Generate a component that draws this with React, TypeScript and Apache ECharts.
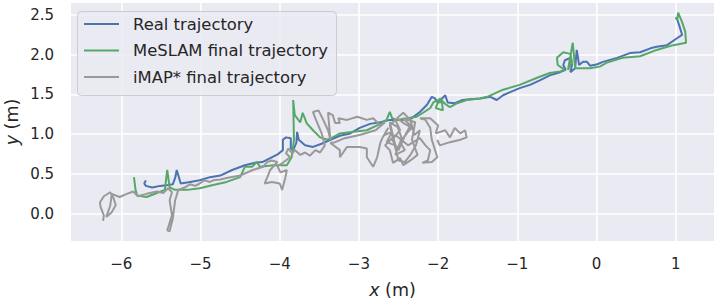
import React, { useEffect, useRef } from "react";
import * as echarts from "echarts";

const seriesNames = ["Real trajectory", "MeSLAM final trajectory", "iMAP* final trajectory"];
const seriesColors = ["#4C72B0", "#55A868", "#999999"];

const xTicks = [-6, -5, -4, -3, -2, -1, 0, 1];
const yTicks = [0, 0.5, 1, 1.5, 2, 2.5];

const realTrajectory: number[][] = [
  [-5.69, 0.42], [-5.71, 0.38], [-5.69, 0.35], [-5.61, 0.33], [-5.51, 0.35], [-5.41, 0.36],
  [-5.35, 0.37], [-5.32, 0.45], [-5.30, 0.55], [-5.27, 0.45], [-5.25, 0.38], [-5.13, 0.40],
  [-5.01, 0.42], [-4.88, 0.46], [-4.75, 0.48], [-4.60, 0.55], [-4.44, 0.61], [-4.31, 0.64],
  [-4.22, 0.65], [-4.12, 0.70], [-4.02, 0.75], [-3.96, 0.80], [-3.96, 0.93], [-3.92, 0.96],
  [-3.86, 0.95], [-3.86, 0.82], [-3.83, 0.80], [-3.79, 0.89], [-3.78, 1.03], [-3.76, 0.93],
  [-3.68, 0.86], [-3.58, 0.84], [-3.47, 0.88], [-3.36, 0.93], [-3.24, 0.98], [-3.11, 1.01],
  [-2.99, 1.08], [-2.86, 1.13], [-2.73, 1.15], [-2.61, 1.18], [-2.48, 1.18], [-2.35, 1.19],
  [-2.23, 1.28], [-2.14, 1.37], [-2.08, 1.47], [-2.04, 1.45], [-2.00, 1.39], [-1.95, 1.45],
  [-1.91, 1.49], [-1.88, 1.40], [-1.79, 1.39], [-1.69, 1.43], [-1.60, 1.44], [-1.47, 1.45],
  [-1.34, 1.47], [-1.26, 1.43], [-1.18, 1.49], [-1.09, 1.53], [-0.97, 1.58], [-0.84, 1.62],
  [-0.71, 1.68], [-0.59, 1.74], [-0.46, 1.78], [-0.39, 1.81], [-0.42, 1.87], [-0.40, 1.93],
  [-0.33, 1.96], [-0.31, 1.87], [-0.33, 1.78], [-0.27, 1.83], [-0.25, 2.06], [-0.22, 1.87],
  [-0.17, 1.91], [-0.12, 1.91], [-0.08, 1.86], [0.01, 1.88], [0.08, 1.91], [0.26, 1.96],
  [0.42, 2.02], [0.55, 2.03], [0.68, 2.08], [0.76, 2.10], [0.89, 2.12], [1.02, 2.21],
  [1.08, 2.25], [1.05, 2.35], [1.02, 2.44], [1.00, 2.47],
];

const meslamTrajectory: number[][] = [
  [-5.84, 0.46], [-5.83, 0.38], [-5.82, 0.30], [-5.80, 0.23], [-5.68, 0.21], [-5.55, 0.26],
  [-5.45, 0.30], [-5.42, 0.55], [-5.39, 0.33], [-5.32, 0.30], [-5.17, 0.30], [-5.01, 0.32],
  [-4.84, 0.36], [-4.67, 0.40], [-4.50, 0.46], [-4.44, 0.59], [-4.35, 0.59], [-4.29, 0.65],
  [-4.25, 0.59], [-4.08, 0.61], [-3.91, 0.61], [-3.85, 0.71], [-3.82, 0.93], [-3.83, 1.43],
  [-3.81, 1.24], [-3.74, 1.15], [-3.71, 1.27], [-3.66, 1.14], [-3.58, 1.05], [-3.49, 0.96],
  [-3.40, 0.93], [-3.33, 0.96], [-3.24, 1.01], [-3.07, 1.03], [-2.90, 1.05], [-2.77, 1.11],
  [-2.65, 1.18], [-2.61, 1.28], [-2.58, 1.20], [-2.52, 1.18], [-2.39, 1.20], [-2.27, 1.22],
  [-2.19, 1.27], [-2.10, 1.33], [-2.06, 1.40], [-2.01, 1.43], [-1.95, 1.39], [-1.94, 1.30],
  [-2.03, 1.33], [-1.98, 1.45], [-1.91, 1.38], [-1.85, 1.34], [-1.76, 1.39], [-1.64, 1.43],
  [-1.47, 1.45], [-1.38, 1.47], [-1.18, 1.56], [-0.97, 1.62], [-0.75, 1.71], [-0.59, 1.77],
  [-0.46, 1.79], [-0.40, 1.81], [-0.49, 1.87], [-0.50, 1.96], [-0.42, 2.03], [-0.33, 2.01],
  [-0.31, 1.91], [-0.36, 1.81], [-0.30, 2.15], [-0.27, 1.83], [-0.21, 1.83], [-0.08, 1.83],
  [0.04, 1.85], [0.13, 1.90], [0.33, 1.96], [0.55, 1.98], [0.76, 2.06], [0.97, 2.12],
  [1.13, 2.15], [1.12, 2.29], [1.08, 2.41], [1.03, 2.53], [1.02, 2.44], [1.00, 2.46],
];

const imapTrajectory: number[][] = [
  [-6.23, -0.09], [-6.22, -0.02], [-6.26, 0.08], [-6.27, 0.14], [-6.22, 0.22], [-6.14, 0.27],
  [-6.10, 0.20], [-6.07, 0.11], [-6.12, 0.02], [-6.19, -0.04], [-6.14, 0.10], [-6.12, 0.25],
  [-6.02, 0.21], [-5.93, 0.25], [-5.85, 0.28], [-5.79, 0.22], [-5.68, 0.25], [-5.55, 0.28],
  [-5.47, 0.26], [-5.41, 0.32], [-5.36, 0.27], [-5.39, 0.17], [-5.36, -0.02], [-5.42, -0.21],
  [-5.39, -0.22], [-5.35, -0.06], [-5.32, 0.17], [-5.28, 0.30], [-5.20, 0.33], [-5.13, 0.37],
  [-5.07, 0.35], [-5.01, 0.38], [-4.95, 0.42], [-4.88, 0.40], [-4.84, 0.42], [-4.75, 0.43],
  [-4.67, 0.45], [-4.50, 0.48], [-4.34, 0.55], [-4.21, 0.59], [-4.16, 0.65], [-4.10, 0.67],
  [-4.03, 0.65], [-4.12, 0.55], [-4.16, 0.45], [-4.19, 0.38], [-4.10, 0.40], [-4.00, 0.38],
  [-3.97, 0.30], [-3.93, 0.45], [-3.91, 0.55], [-3.99, 0.52], [-4.03, 0.60], [-3.96, 0.64],
  [-3.87, 0.71], [-3.92, 0.76], [-3.89, 0.82], [-3.84, 0.76], [-3.81, 0.80], [-3.74, 0.74],
  [-3.68, 0.77], [-3.62, 0.73], [-3.55, 0.80], [-3.49, 0.77], [-3.43, 0.86], [-3.47, 1.01],
  [-3.55, 1.20], [-3.58, 1.28], [-3.51, 1.30], [-3.45, 1.18], [-3.39, 1.05], [-3.36, 0.93],
  [-3.39, 1.27], [-3.33, 1.24], [-3.30, 1.14], [-3.24, 1.14], [-3.26, 1.20], [-3.15, 1.18],
  [-3.02, 1.22], [-2.90, 1.18], [-2.82, 1.20], [-2.73, 1.11], [-2.67, 1.15], [-2.79, 1.05],
  [-2.99, 0.99], [-3.18, 0.95], [-3.30, 0.90], [-3.36, 0.89], [-3.24, 0.80], [-3.24, 0.71],
  [-3.15, 0.84], [-2.99, 0.84], [-2.90, 0.82], [-2.90, 0.71], [-2.82, 0.59], [-2.77, 0.71],
  [-2.73, 0.89], [-2.70, 0.96], [-2.63, 1.08], [-2.68, 0.99], [-2.58, 1.03], [-2.65, 0.90],
  [-2.54, 0.86], [-2.61, 1.15], [-2.51, 1.09], [-2.46, 0.95], [-2.54, 0.74], [-2.42, 0.80],
  [-2.48, 0.90], [-2.38, 1.03], [-2.33, 1.08], [-2.42, 1.13], [-2.52, 1.20], [-2.44, 1.27],
  [-2.35, 1.18], [-2.30, 0.99], [-2.23, 1.05], [-2.28, 0.86], [-2.35, 0.74], [-2.42, 0.65],
  [-2.50, 0.67], [-2.61, 1.11], [-2.54, 1.18], [-2.48, 1.05], [-2.58, 0.93], [-2.50, 0.80],
  [-2.42, 0.98], [-2.35, 1.11], [-2.44, 1.20], [-2.29, 1.15], [-2.33, 0.93], [-2.26, 0.74],
  [-2.35, 0.67], [-2.44, 0.61], [-2.48, 0.70], [-2.57, 0.64], [-2.61, 0.80], [-2.67, 0.86],
  [-2.54, 0.99], [-2.38, 0.86], [-2.23, 0.95], [-2.16, 0.86], [-2.10, 0.80], [-2.13, 0.67],
  [-2.20, 0.64], [-2.08, 0.65], [-2.01, 0.71], [-2.08, 0.93], [-2.10, 1.08], [-2.16, 1.18],
  [-2.23, 1.20], [-2.10, 1.20], [-2.00, 1.11], [-2.03, 1.01], [-1.91, 1.05], [-1.85, 0.96],
  [-1.79, 1.08], [-1.72, 1.01], [-1.66, 1.05], [-1.64, 0.96], [-1.72, 0.93], [-1.85, 0.90],
  [-1.98, 0.86], [-2.01, 0.93],
];

const trajectories = [realTrajectory, meslamTrajectory, imapTrajectory];

const FONT = "DejaVu Sans";
const TEXT = "#262626";

const fmt = (v: number, d: number) => (v < 0 ? "\u2212" + Math.abs(v).toFixed(d) : v.toFixed(d));

export default function App() {
  const ref = useRef<HTMLDivElement>(null);
  useEffect(() => {
    if (!ref.current) return;
    const chart = echarts.init(ref.current, null, { renderer: "svg" });
    const legendItems: any[] = [
      {
        type: "rect",
        shape: { x: 77.5, y: 11.5, width: 259, height: 84, r: 4 },
        style: { fill: "rgba(234,234,242,0.8)", stroke: "#cccccc", lineWidth: 1 },
        z: 100,
      },
    ];
    seriesNames.forEach((name, i) => {
      const cy = 24 + i * 26.5;
      legendItems.push({
        type: "line",
        shape: { x1: 84, y1: cy, x2: 119, y2: cy },
        style: { stroke: seriesColors[i], lineWidth: 2 },
        z: 101,
      });
      legendItems.push({
        type: "text",
        x: 133,
        y: cy,
        style: { text: name, font: `16.4px "${FONT}"`, fill: TEXT, verticalAlign: "middle", align: "left" },
        z: 101,
      });
    });
    chart.setOption({
      animation: false,
      grid: {
        left: 71,
        top: 3,
        right: 5,
        bottom: 60,
        show: true,
        backgroundColor: "#EAEAF2",
        borderWidth: 0,
      },
      xAxis: {
        type: "value",
        min: -6.635,
        max: 1.483,
        axisLine: { show: false },
        axisTick: { show: false, customValues: xTicks },
        axisLabel: {
          customValues: xTicks,
          formatter: (v: number) => fmt(v, 0),
          fontFamily: FONT,
          fontSize: 15,
          color: TEXT,
          margin: 15,
        },
        splitLine: { show: true, lineStyle: { color: "#ffffff", width: 1.6 } },
      },
      yAxis: {
        type: "value",
        min: -0.343,
        max: 2.65,
        axisLine: { show: false },
        axisTick: { show: false, customValues: yTicks },
        axisLabel: {
          customValues: yTicks,
          formatter: (v: number) => fmt(v, 1),
          fontFamily: FONT,
          fontSize: 15,
          color: TEXT,
          margin: 17,
        },
        splitLine: { show: true, lineStyle: { color: "#ffffff", width: 1.6 } },
      },
      series: trajectories.map((d, i) => ({
        type: "line",
        name: seriesNames[i],
        data: d,
        symbol: "none",
        showSymbol: false,
        lineStyle: { color: seriesColors[i], width: 2 },
        itemStyle: { color: seriesColors[i] },
        z: 2 + i,
      })),
      graphic: [
        ...legendItems,
        {
          type: "text",
          x: 392.5,
          y: 290,
          style: {
            text: "{i|x} (m)",
            font: `17.5px "${FONT}"`,
            fill: TEXT,
            align: "center",
            verticalAlign: "middle",
            rich: { i: { fontStyle: "italic", fontFamily: FONT, fontSize: 17.5, fill: TEXT } },
          },
        },
        {
          type: "text",
          x: 12,
          y: 122,
          rotation: Math.PI / 2,
          style: {
            text: "{i|y} (m)",
            font: `17.5px "${FONT}"`,
            fill: TEXT,
            align: "center",
            verticalAlign: "middle",
            rich: { i: { fontStyle: "italic", fontFamily: FONT, fontSize: 17.5, fill: TEXT } },
          },
        },
      ],
    });
    return () => chart.dispose();
  }, []);
  return <div ref={ref} style={{ width: 719, height: 301, position: "absolute", left: 0, top: 0 }} />;
}
